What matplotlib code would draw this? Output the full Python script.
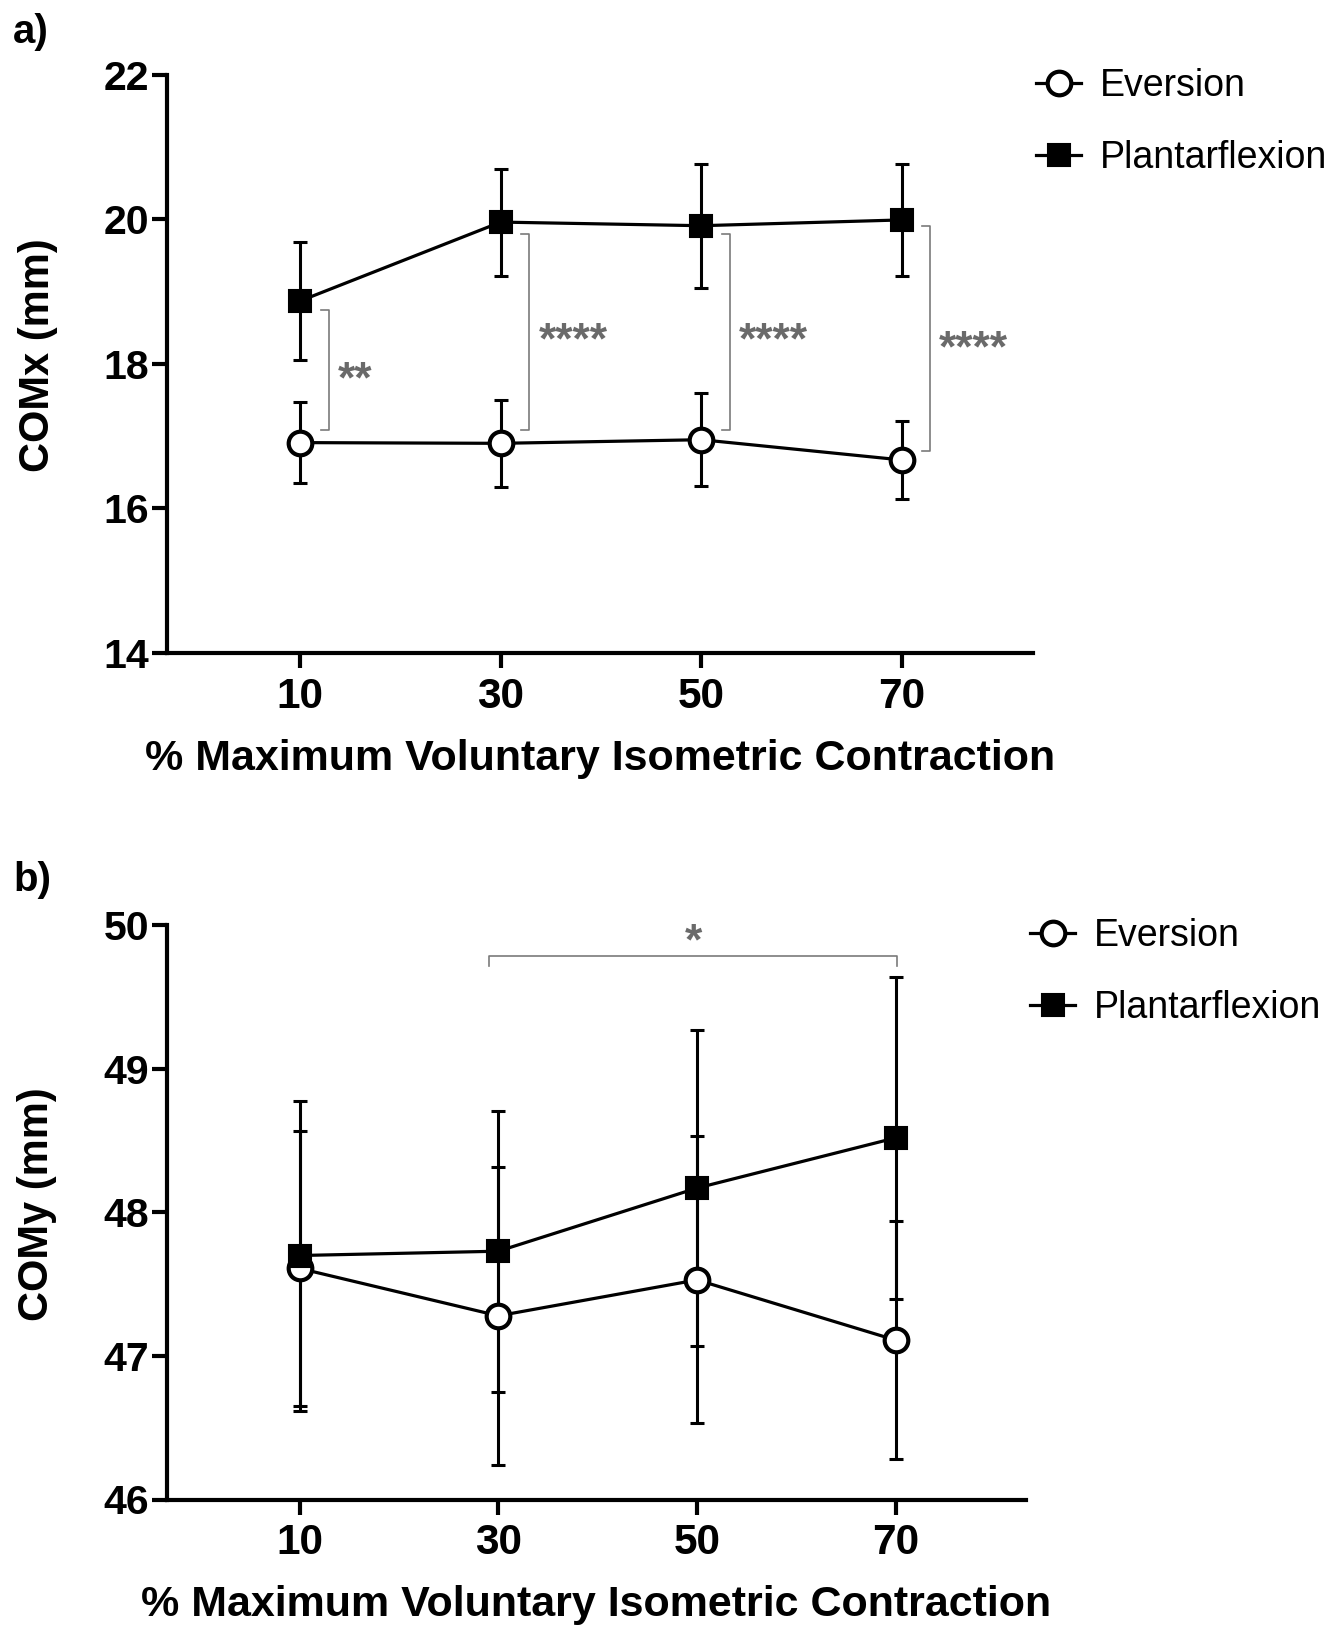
import numpy as np
import matplotlib
matplotlib.use('Agg')
import matplotlib.pyplot as plt
from matplotlib import transforms

plt.rcParams['font.family'] = ['Liberation Sans', 'DejaVu Sans']

mvc = [10, 30, 50, 70]
series_names = ['Eversion', 'Plantarflexion']

# panel a: COMx (mm), mean and SD
comx_ev_mean = [16.91, 16.90, 16.95, 16.67]
comx_ev_sd = [0.56, 0.60, 0.64, 0.54]
comx_pf_mean = [18.87, 19.96, 19.91, 19.99]
comx_pf_sd = [0.82, 0.74, 0.86, 0.78]

# panel b: COMy (mm), mean and SD
comy_ev_mean = [47.61, 47.28, 47.53, 47.11]
comy_ev_sd = [0.96, 1.04, 1.00, 0.83]
comy_pf_mean = [47.70, 47.73, 48.17, 48.52]
comy_pf_sd = [1.08, 0.98, 1.10, 1.12]

# significance brackets (ev vs pf at each level) for panel a
sig_a_top = [18.75, 19.79, 19.79, 19.91]
sig_a_bottom = [17.08, 17.08, 17.08, 16.79]
sig_a_labels = ['**', '****', '****', '****']
sig_a_label_y = [17.91, 18.45, 18.45, 18.34]

# panel b: plantarflexion 30 vs 70
sig_b_from, sig_b_to = 30, 70
sig_b_label = '*'

gray = '#7a7a7a'
stargray = '#6a6a6a'

fig = plt.figure(figsize=(13.42, 16.25), dpi=100)
ax_a = fig.add_axes([167/1342, 1-653/1625, (1033-167)/1342, (653-74.6)/1625])
ax_b = fig.add_axes([167/1342, 1-1499.5/1625, (1026-167)/1342, (1499.5-925.4)/1625])


def draw_panel(ax, ev_m, ev_s, pf_m, pf_s):
    ax.errorbar(mvc, ev_m, yerr=ev_s, fmt='none', ecolor='k', elinewidth=2.2,
                capsize=5, capthick=2.2, zorder=2)
    ax.errorbar(mvc, pf_m, yerr=pf_s, fmt='none', ecolor='k', elinewidth=2.2,
                capsize=5, capthick=2.2, zorder=2)
    h1, = ax.plot(mvc, ev_m, color='k', lw=2.3, marker='o', ms=17, mfc='white',
                  mec='k', mew=3, zorder=3, label=series_names[0])
    h2, = ax.plot(mvc, pf_m, color='k', lw=2.3, marker='s', ms=16, mfc='k',
                  mec='k', mew=1.5, zorder=4, label=series_names[1])
    for side in ['top', 'right']:
        ax.spines[side].set_visible(False)
    for side in ['left', 'bottom']:
        ax.spines[side].set_linewidth(3)
    ax.tick_params(axis='both', direction='out', length=11, width=3)
    ax.tick_params(axis='y', labelsize=29.5, pad=2)
    ax.tick_params(axis='x', labelsize=30.5, pad=6)
    ax.set_xticks(mvc)
    ax.set_xticklabels([str(v) for v in mvc], fontweight='bold')
    ax.set_xlabel('% Maximum Voluntary Isometric Contraction', fontsize=31,
                  fontweight='bold', labelpad=16)
    return h1, h2


def add_legend(ax, handles, left_px, top_px):
    ax.legend(handles=handles, loc='upper left',
              bbox_to_anchor=(left_px/1342, 1-top_px/1625),
              bbox_transform=fig.transFigure, frameon=False, fontsize=27,
              handlelength=1.2, handletextpad=0.5, labelspacing=0.96,
              borderpad=0, borderaxespad=0)


h1, h2 = draw_panel(ax_a, comx_ev_mean, comx_ev_sd, comx_pf_mean, comx_pf_sd)
ax_a.set_xlim(-3.3, 83.1)
ax_a.set_ylim(14, 22)
ax_a.set_yticks([14, 16, 18, 20, 22])
ax_a.set_yticklabels(['14', '16', '18', '20', '22'], fontweight='bold')
ax_a.set_ylabel('COMx (mm)', fontsize=30, fontweight='bold')
ax_a.yaxis.set_label_coords(-0.126, 0.515)

star_off_a = transforms.offset_copy(ax_a.transData, fig=fig, y=-7.5, units='points')
for x, top, bot, lab, ly in zip(mvc, sig_a_top, sig_a_bottom, sig_a_labels, sig_a_label_y):
    bx = x + 2.85
    ax_a.plot([bx - 0.8, bx, bx, bx - 0.8], [top, top, bot, bot], color=gray,
              lw=1.2, zorder=1, clip_on=False)
    ax_a.text(bx + 0.9, ly, lab, fontsize=32, fontweight='bold', color=stargray,
              ha='left', va='center', transform=star_off_a)

add_legend(ax_a, [h1, h2], 1036, 68)

h1, h2 = draw_panel(ax_b, comy_ev_mean, comy_ev_sd, comy_pf_mean, comy_pf_sd)
ax_b.set_xlim(-3.34, 83.1)
ax_b.set_ylim(46, 50)
ax_b.set_yticks([46, 47, 48, 49, 50])
ax_b.set_yticklabels(['46', '47', '48', '49', '50'], fontweight='bold')
ax_b.set_ylabel('COMy (mm)', fontsize=30, fontweight='bold')
ax_b.yaxis.set_label_coords(-0.128, 0.515)

bx0 = sig_b_from - 0.95
bx1 = sig_b_to + 0.15
ax_b.plot([bx0, bx0, bx1, bx1], [49.72, 49.79, 49.79, 49.72], color=gray,
          lw=1.2, zorder=1, clip_on=False)
star_off_b = transforms.offset_copy(ax_b.transData, fig=fig, y=-7.5, units='points')
ax_b.text((bx0 + bx1) / 2, 49.95, sig_b_label, fontsize=32, fontweight='bold',
          color=stargray, ha='center', va='center', transform=star_off_b)

add_legend(ax_b, [h1, h2], 1030, 918)

fig.text(13/1342, 1-13/1625, 'a)', fontsize=29, fontweight='bold', ha='left', va='top')
fig.text(13/1342, 1-861/1625, 'b)', fontsize=29, fontweight='bold', ha='left', va='top')

fig.savefig('out.png', dpi=100)
